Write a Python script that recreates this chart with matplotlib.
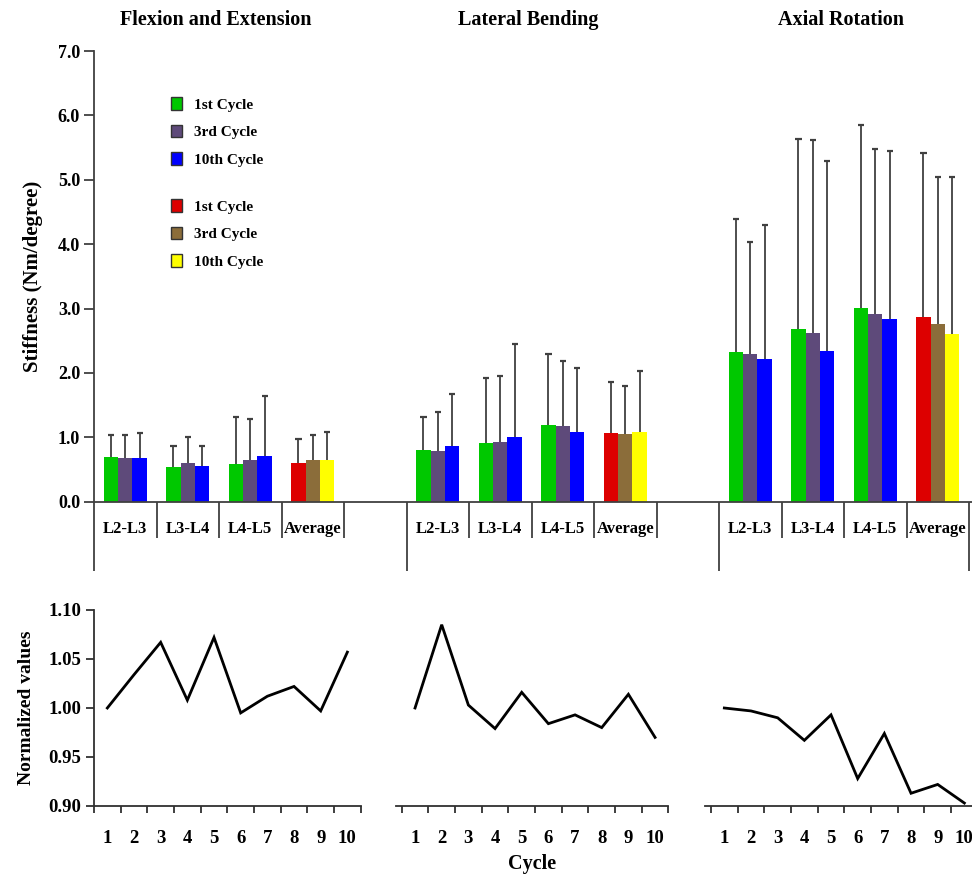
import numpy as np
import matplotlib
matplotlib.use('Agg')
from matplotlib import pyplot as plt
import matplotlib.patches as mpatches

plt.rcParams['font.family'] = ['Liberation Serif', 'DejaVu Serif']
plt.rcParams['font.weight'] = 'bold'
plt.rcParams['axes.labelweight'] = 'bold'

# ---- data ----
motions = ['Flexion and Extension', 'Lateral Bending', 'Axial Rotation']
levels = ['L2-L3', 'L3-L4', 'L4-L5', 'Average']
cycleNames = ['1st Cycle', '3rd Cycle', '10th Cycle']

# mean stiffness (Nm/degree), rows = motions, cols = levels
cyc1Mean = [[0.69, 0.54, 0.59, 0.60],
            [0.80, 0.91, 1.19, 1.07],
            [2.32, 2.68, 3.01, 2.87]]
cyc3Mean = [[0.68, 0.60, 0.64, 0.64],
            [0.78, 0.93, 1.17, 1.05],
            [2.30, 2.62, 2.91, 2.76]]
cyc10Mean = [[0.68, 0.56, 0.71, 0.64],
             [0.86, 1.00, 1.08, 1.08],
             [2.22, 2.34, 2.84, 2.60]]
# standard deviations (upper error bars)
cyc1Sd = [[0.34, 0.32, 0.72, 0.38],
          [0.52, 1.01, 1.10, 0.79],
          [2.07, 2.96, 2.84, 2.55]]
cyc3Sd = [[0.35, 0.40, 0.65, 0.40],
          [0.62, 1.03, 1.01, 0.75],
          [1.74, 2.99, 2.57, 2.29]]
cyc10Sd = [[0.38, 0.31, 0.93, 0.45],
           [0.82, 1.45, 0.99, 0.95],
           [2.08, 2.95, 2.61, 2.45]]

cycles = list(range(1, 11))
normFE = [1.000, 1.034, 1.067, 1.008, 1.072, 0.995, 1.012, 1.022, 0.997, 1.057]
normLB = [1.000, 1.085, 1.003, 0.979, 1.016, 0.984, 0.993, 0.980, 1.014, 0.970]
normAR = [1.000, 0.997, 0.990, 0.967, 0.993, 0.928, 0.974, 0.913, 0.922, 0.903]

segColors = ['#00c800', '#5e4a7a', '#0000ff']
avgColors = ['#dd0000', '#8b6d3a', '#ffff00']
lineCol = '#404040'

W, H = 972., 875.
fg = plt.figure(figsize=(W/100, H/100), dpi=100)

# ---------------- top bar chart ----------------
slotPx = 62.5
x0, yBase, yTop = 94., 501.7, 51.
ax = fg.add_axes([x0/W, 1 - yBase/H, (W - x0)/W, (yBase - yTop)/H])
ax.set_xlim(0, (W - x0)/slotPx)
ax.set_ylim(0, 7)
for s in ['top', 'right']:
  ax.spines[s].set_visible(False)
for s in ['left', 'bottom']:
  ax.spines[s].set_color(lineCol)
  ax.spines[s].set_linewidth(1.3)
ax.set_xticks([])
ax.set_yticks(np.arange(0, 7.5, 1.0))
ax.set_yticklabels(['%.1f' % v for v in np.arange(0, 7.5, 1.0)], fontsize=13)
ax.tick_params(axis='y', direction='out', length=7, width=1.3, color=lineCol, pad=3)

means = [cyc1Mean, cyc3Mean, cyc10Mean]
sds = [cyc1Sd, cyc3Sd, cyc10Sd]
bw = 0.23
capw = 0.05
for g in range(3):
  centers = np.array([g*5 + c + 0.5 for c in range(len(levels))])
  for k in range(3):
    xs = centers + (k - 1)*bw
    cols = [segColors[k]]*3 + [avgColors[k]]
    mn = np.array(means[k][g])
    sd = np.array(sds[k][g])
    ax.bar(xs, mn, width=bw, color=cols, linewidth=0, zorder=2)
    # upper error bars only
    ax.vlines(xs, mn, mn + sd, colors=lineCol, lw=1.3, zorder=1)
    ax.hlines(mn + sd, xs - capw, xs + capw, colors=lineCol, lw=1.6, zorder=1)
  # category labels under the axis
  for c, lv in enumerate(levels):
    ax.text(centers[c], -27/(yBase - yTop), lv, transform=ax.get_xaxis_transform(),
            ha='center', va='center', fontsize=12)
  ax.text(g*5 + 1.95, 1 + 31/(yBase - yTop), motions[g], transform=ax.get_xaxis_transform(),
          ha='center', va='center', fontsize=14.5)

# separator lines of the category table
shortX = [1, 2, 3, 4, 6, 7, 8, 9, 11, 12, 13]
longX = [0, 5, 10, 14]
tr = ax.get_xaxis_transform()
ax.vlines(shortX, -36/(yBase - yTop), 0, transform=tr, colors=lineCol, lw=1.3, clip_on=False)
ax.vlines(longX, -69/(yBase - yTop), 0, transform=tr, colors=lineCol, lw=1.3, clip_on=False)

ax.set_ylabel('Stiffness (Nm/degree)', fontsize=15, labelpad=11)

# legends
def mkHandles(cols):
  return [mpatches.Patch(facecolor=c, edgecolor='#333333', linewidth=1) for c in cols]

lgKw = dict(loc='upper left', frameon=False, fontsize=11, borderpad=0, borderaxespad=0,
            handlelength=0.72, handleheight=0.92, handletextpad=0.8, labelspacing=0.84,
            bbox_transform=fg.transFigure)
lg1 = ax.legend(handles=mkHandles(segColors), labels=cycleNames,
                bbox_to_anchor=(171/W, 1 - 97/H), **lgKw)
ax.add_artist(lg1)
lg2 = ax.legend(handles=mkHandles(avgColors), labels=cycleNames,
                bbox_to_anchor=(171/W, 1 - 199/H), **lgKw)

# ---------------- bottom line charts ----------------
cyclePx = 26.67
bBot, bTop = 806., 610.
lefts = [94., 395.7, 705.]
norms = [normFE, normLB, normAR]
for i in range(3):
  xlo = 0.5 if i == 0 else 0.5 - 6/cyclePx
  wpx = (10.5 - xlo)*cyclePx
  bx = fg.add_axes([lefts[i]/W, 1 - bBot/H, wpx/W, (bBot - bTop)/H])
  bx.plot(cycles, norms[i], color='black', lw=2.0, solid_joinstyle='miter')
  bx.set_xlim(xlo, 10.5)
  bx.set_ylim(0.90, 1.10)
  bx.spines['top'].set_visible(False)
  bx.spines['right'].set_visible(False)
  bx.spines['bottom'].set_color('#303030')
  bx.spines['bottom'].set_linewidth(1.3)
  bx.set_xticks(cycles)
  bx.set_xticklabels([str(c) for c in cycles], fontsize=13.5)
  bx.set_xticks(np.arange(0.5, 11, 1.0), minor=True)
  bx.tick_params(axis='x', which='major', length=0, pad=17)
  bx.tick_params(axis='x', which='minor', length=5, width=1.3, direction='out', color='#303030')
  if i == 0:
    bx.spines['left'].set_color('#303030')
    bx.spines['left'].set_linewidth(1.3)
    bx.set_yticks(np.arange(0.90, 1.101, 0.05))
    bx.set_yticklabels(['%.2f' % v for v in np.arange(0.90, 1.101, 0.05)], fontsize=13.5)
    bx.tick_params(axis='y', direction='out', length=6, width=1.3, color='#303030', pad=3)
    bx.set_ylabel('Normalized values', fontsize=14, labelpad=10)
  else:
    bx.spines['left'].set_visible(False)
    bx.set_yticks([])
  if i == 1:
    bx.set_xlabel('Cycle', fontsize=14.5, labelpad=5)

fg.savefig('out.png', dpi=100)
